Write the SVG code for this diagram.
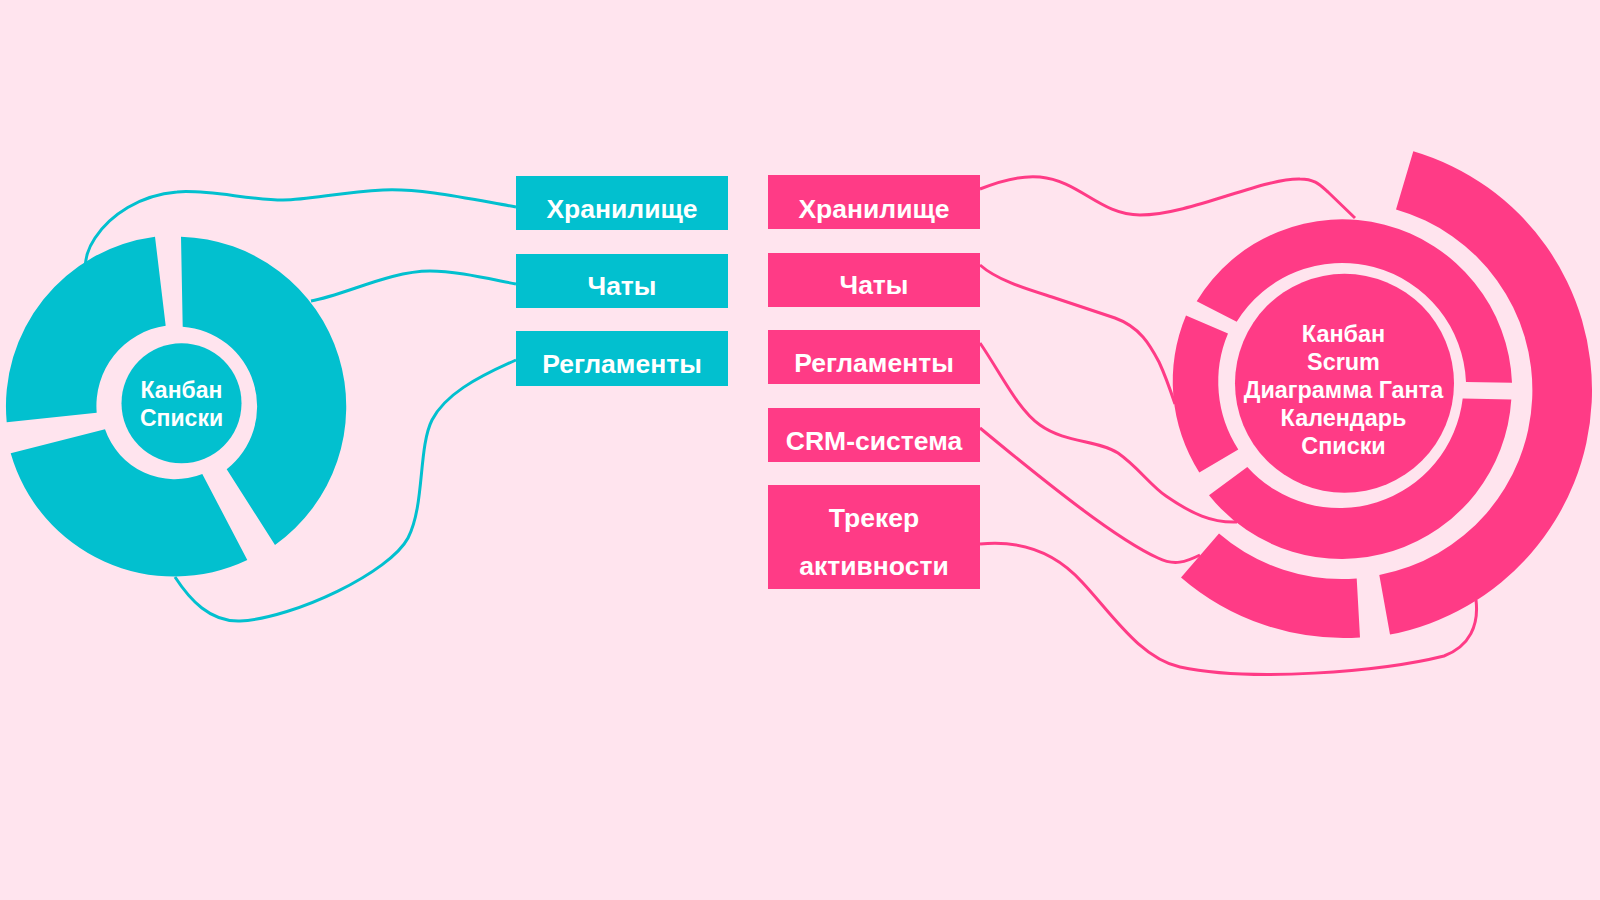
<svg xmlns="http://www.w3.org/2000/svg" width="1600" height="900" viewBox="0 0 1600 900">
<style>
.bg{fill:#FFE4EE}
.teal{fill:#02C0CF}
.pink{fill:#FF3B86}
.ct{fill:none;stroke:#02C0CF;stroke-width:3}
.cp{fill:none;stroke:#FF3B86;stroke-width:3}
.lbl{font-family:"Liberation Sans",Arial,sans-serif;font-weight:bold;font-size:26.5px;fill:#FFFFFF;text-anchor:middle}
.ctr{font-family:"Liberation Sans",Arial,sans-serif;font-weight:bold;font-size:23px;fill:#FFFFFF;text-anchor:middle}
</style>
<rect class="bg" x="0" y="0" width="1600" height="900"/>
<g id="connectors">
<path class="ct" d="M 516,207 C 470,199 420,188 383,190 C 340,192 310,200 283,200 C 250,200 205,189 177,192 C 140,195 110,215 95,238 C 87,250 86,258 85,267"/>
<path class="ct" d="M 516,284 C 485,278 455,271 430,271 C 390,271 345,295 311,301"/>
<path class="ct" d="M 516,360 C 475,378 445,395 432,420 C 418,448 425,505 408,538 C 390,572 295,618 240,621 C 210,622 190,600 175,577"/>
<path class="cp" d="M 980,189 C 1000,181 1020,175 1040,177 C 1080,181 1100,215 1140,215 C 1190,215 1262,178 1300,179 C 1315,179 1320,185 1328,192 L 1355,218"/>
<path class="cp" d="M 980,265 C 998,281 1030,290 1052,297 L 1115,318 C 1140,327 1150,345 1159,362 C 1166,377 1171,392 1175,404"/>
<path class="cp" d="M 980,343 C 1000,372 1018,410 1040,425 C 1065,443 1098,440 1118,453 C 1138,467 1150,485 1166,496 C 1192,514 1212,523 1237,522"/>
<path class="cp" d="M 980,428 C 1050,486 1118,540 1158,558 C 1174,566 1186,562 1200,555"/>
<path class="cp" d="M 980,544 C 1020,540 1055,552 1082,582 C 1112,614 1140,658 1180,667 C 1250,682 1380,672 1444,656 C 1470,646 1479,625 1476,600"/>
</g>
<g id="left-donut">
<path class="teal" d="M 6.7,422.3 A 171 171 0 0 1 155,236.7 L 165.7,325.7 A 81 81 0 0 0 96.7,412.7 Z"/>
<path class="teal" d="M 181,236.7 A 170 170 0 0 1 275,545 L 226.7,469.3 A 80 80 0 0 0 182.7,326.7 Z"/>
<path class="teal" d="M 247.3,560 A 170 170 0 0 1 10.7,453.3 L 105,429.3 A 74 74 0 0 0 202.3,474 Z"/>
<circle class="teal" cx="181.5" cy="403.3" r="60"/>
<text class="ctr" x="181.5" y="397.7">Канбан</text>
<text class="ctr" x="181.5" y="425.7">Списки</text>
</g>
<g id="teal-storage">
<rect class="teal" x="516" y="176" width="212" height="54"/>
<text class="lbl" x="622" y="218.3">Хранилище</text>
</g>
<g id="teal-chats">
<rect class="teal" x="516" y="254" width="212" height="54"/>
<text class="lbl" x="622" y="295">Чаты</text>
</g>
<g id="teal-rules">
<rect class="teal" x="516" y="331" width="212" height="55"/>
<text class="lbl" x="622" y="372.7">Регламенты</text>
</g>
<g id="pink-storage">
<rect class="pink" x="768" y="175" width="212" height="54"/>
<text class="lbl" x="874" y="217.7">Хранилище</text>
</g>
<g id="pink-chats">
<rect class="pink" x="768" y="253" width="212" height="54"/>
<text class="lbl" x="874" y="294.3">Чаты</text>
</g>
<g id="pink-rules">
<rect class="pink" x="768" y="330" width="212" height="54"/>
<text class="lbl" x="874" y="372">Регламенты</text>
</g>
<g id="pink-crm">
<rect class="pink" x="768" y="408" width="212" height="54"/>
<text class="lbl" x="874" y="450">CRM-система</text>
</g>
<g id="pink-tracker">
<rect class="pink" x="768" y="485" width="212" height="104"/>
<text class="lbl" x="874" y="526.7">Трекер</text>
<text class="lbl" x="874" y="575">активности</text>
</g>
<g id="right-donut">
<path class="pink" d="M 1413.3,151.2 A 249 249 0 0 1 1390,634.6 L 1379.3,574.9 A 188 188 0 0 0 1396,209.4 Z"/>
<path class="pink" d="M 1360,637.4 A 249 249 0 0 1 1181,577.4 L 1219,533.5 A 188 188 0 0 0 1356.7,578.4 Z"/>
<path class="pink" d="M 1196.7,301.3 A 170 170 0 0 1 1512,382.7 L 1466,382 A 124 124 0 0 0 1236.7,321.7 Z"/>
<path class="pink" d="M 1511.3,399.6 A 170 170 0 0 1 1209,495.3 L 1247.3,466.9 A 124 124 0 0 0 1462.7,398.5 Z"/>
<path class="pink" d="M 1199.3,472.5 A 170 170 0 0 1 1186,315.4 L 1228,333.6 A 124 124 0 0 0 1238.3,449.4 Z"/>
<circle class="pink" cx="1344.5" cy="383.3" r="109.5"/>
<text class="ctr" x="1343.5" y="342.4" style="font-size:23.4px">Канбан</text>
<text class="ctr" x="1343.5" y="370.4" style="font-size:23.4px">Scrum</text>
<text class="ctr" x="1343.5" y="398.4" style="font-size:23.4px">Диаграмма Ганта</text>
<text class="ctr" x="1343.5" y="426" style="font-size:23.4px">Календарь</text>
<text class="ctr" x="1343.5" y="453.9" style="font-size:23.4px">Списки</text>
</g>
</svg>
